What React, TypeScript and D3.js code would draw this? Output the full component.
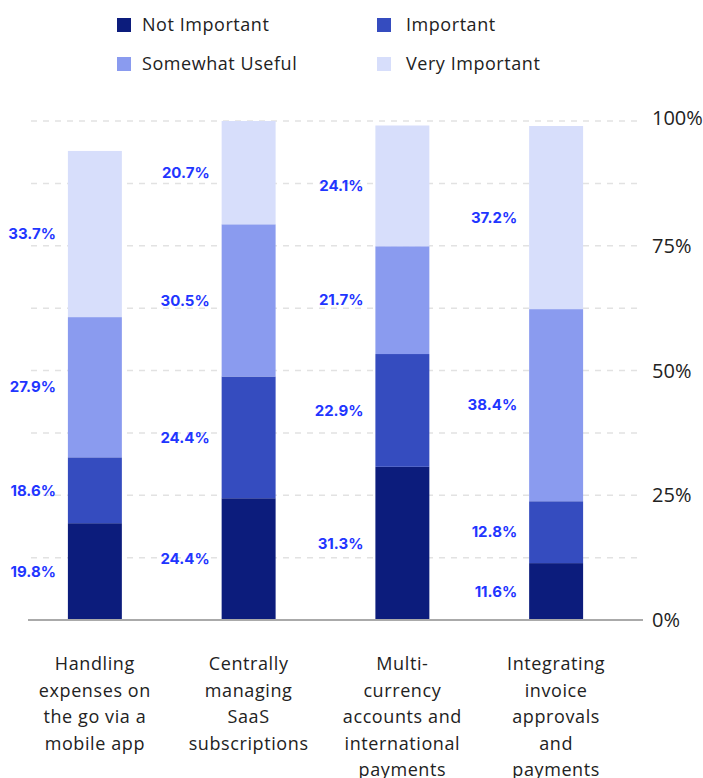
import React from "react";
import * as d3 from "d3";

const categories = ["Handling", "Centrally", "Multi", "Integrating"];
const categoryLines = [
  ["Handling", "expenses on", "the go via a", "mobile app"],
  ["Centrally", "managing", "SaaS", "subscriptions"],
  ["Multi-", "currency", "accounts and", "international", "payments"],
  ["Integrating", "invoice", "approvals", "and", "payments"],
];
const seriesNames = ["Not Important", "Important", "Somewhat Useful", "Very Important"];
const seriesColors = ["#0c1c7c", "#354cbf", "#8a9bef", "#d7defb"];
// bar heights as drawn (percent)
const notImportant = [19.4, 24.4, 30.7, 11.4];
const important = [13.2, 24.4, 22.6, 12.4];
const somewhatUseful = [28.1, 30.5, 21.6, 38.5];
const veryImportant = [33.3, 20.7, 24.2, 36.7];
// printed labels (percent)
const notImportantLabel = [19.8, 24.4, 31.3, 11.6];
const importantLabel = [18.6, 24.4, 22.9, 12.8];
const somewhatUsefulLabel = [27.9, 30.5, 21.7, 38.4];
const veryImportantLabel = [33.7, 20.7, 24.1, 37.2];
const yTickLabels = [0, 25, 50, 75, 100];
const gridTicks = [12.5, 25, 37.5, 50, 62.5, 75, 87.5, 100];

const FONT = "'Open Sans', 'Noto Sans', sans-serif";

export default function App() {
  const W = 703, H = 778;
  const series = [notImportant, important, somewhatUseful, veryImportant];
  const labels = [notImportantLabel, importantLabel, somewhatUsefulLabel, veryImportantLabel];
  const y = d3.scaleLinear().domain([0, 100]).range([620, 121]);
  const x = d3.scaleBand<string>().domain(categories).range([18, 633]).paddingInner(0.649).paddingOuter(0.3245);
  const bw = x.bandwidth();

  const table = categories.map((c, i) => {
    const row: any = { cat: c };
    seriesNames.forEach((s, j) => (row[s] = series[j][i]));
    return row;
  });
  const stacked = d3.stack<any>().keys(seriesNames)(table);

  return (
    <svg width={W} height={H} style={{ position: "absolute", left: 0, top: 0, background: "#fff" }}>
      {/* legend */}
      {seriesNames.map((s, j) => {
        const col = j % 2, row = Math.floor(j / 2);
        const lx = col === 0 ? 117 : 377;
        const tx = col === 0 ? 142 : 406;
        const cy = row === 0 ? 25 : 64;
        return (
          <g key={s}>
            <rect x={lx} y={cy - 7} width={14} height={14} fill={seriesColors[j]} />
            <text x={tx} y={cy} dy="0.35em" fontFamily={FONT} fontSize={18} letterSpacing={0.55} fill="#222">{s}</text>
          </g>
        );
      })}
      {/* grid */}
      {gridTicks.map((t) => (
        <line key={t} x1={31} x2={640} y1={y(t)} y2={y(t)} stroke="#e2e2e2" strokeWidth={1.5} strokeDasharray="6 6" />
      ))}
      {/* bars */}
      {stacked.map((layer, j) => (
        <g key={layer.key}>
          {layer.map((d, i) => (
            <rect key={i} x={x(categories[i])!} y={y(d[1])} width={bw} height={y(d[0]) - y(d[1])} fill={seriesColors[j]} />
          ))}
        </g>
      ))}
      {/* value labels */}
      {stacked.map((layer, j) => (
        <g key={"l" + layer.key}>
          {layer.map((d, i) => (
            <text key={i} x={x(categories[i])! - 12} y={(y(d[0]) + y(d[1])) / 2} dy="0.35em" textAnchor="end"
              fontFamily="Inter, 'Open Sans', sans-serif" fontWeight={700} fontSize={15} fill="#1f36ff">
              {d3.format(".1f")(labels[j][i])}%
            </text>
          ))}
        </g>
      ))}
      {/* axis */}
      <line x1={28} x2={643} y1={620} y2={620} stroke="#aaaaaa" strokeWidth={2} />
      {yTickLabels.map((t) => (
        <text key={t} x={652} y={y(t) - (t === 100 ? 3 : 0)} dy="0.35em" fontFamily={FONT} fontSize={20} fill="#222">{t}%</text>
      ))}
      {/* category labels */}
      {categoryLines.map((lines, i) => (
        <text key={i} textAnchor="middle" fontFamily={FONT} fontSize={18} letterSpacing={0.6} fill="#222">
          {lines.map((ln, k) => (
            <tspan key={k} x={x(categories[i])! + bw / 2} y={670 + k * 26.6}>{ln}</tspan>
          ))}
        </text>
      ))}
    </svg>
  );
}
